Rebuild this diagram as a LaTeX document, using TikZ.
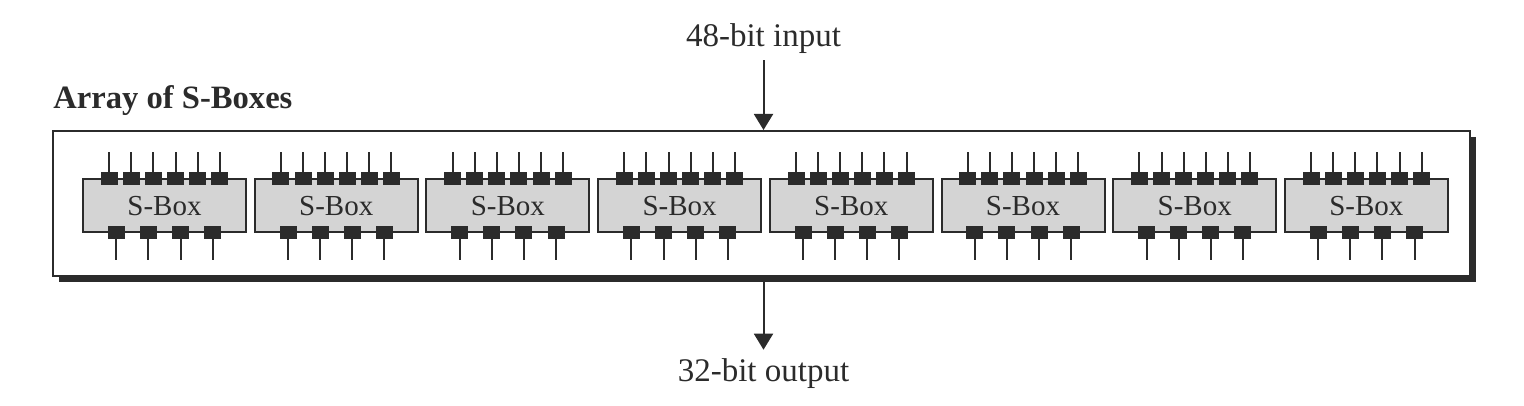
\documentclass[tikz,border=0pt]{standalone}
\usepackage{fontspec}
\setmainfont{Liberation Serif}
\usetikzlibrary{arrows.meta}
\definecolor{dk}{HTML}{2B2B2B}
\definecolor{lg}{HTML}{D4D4D4}
\begin{document}
\begin{tikzpicture}[x=0.5pt,y=-0.5pt,
 sbox/.style={draw=dk, line width=1pt, fill=lg, minimum width=81.5pt, minimum height=26.75pt, inner sep=0pt, font=\fontsize{14.5}{16}\selectfont, text=dk},
 pin/.style={fill=dk, minimum width=8.5pt, minimum height=6.5pt, inner sep=0pt},
 wire/.style={draw=dk, line width=1pt},
 lbl/.style={font=\fontsize{16.5}{19}\selectfont, text=dk, anchor=base, inner sep=0pt},
 ttl/.style={font=\fontsize{16.3}{19}\selectfont\bfseries, text=dk, anchor=base west, inner sep=0pt},
 arr/.style={draw=dk, line width=1pt, -{Triangle[length=8pt,width=9.5pt]}}]
\useasboundingbox (0,0) rectangle (1524,406);
\node[fill=dk, minimum width=708.5pt, minimum height=72.5pt, inner sep=0pt] (shadow) at (767.5,209.5) {};
\node[draw=dk, line width=1pt, fill=white, minimum width=708.5pt, minimum height=72.5pt, inner sep=0pt] (array) at (761.5,203.5) {};
\node[ttl] (title) at (53,108.3) {Array of S-Boxes};
\node[lbl] (in) at (763.5,46.7) {48-bit input};
\node[lbl] (out) at (763.5,381) {32-bit output};
\draw[arr, shorten <=3pt] (in.south) -- (in.south |- array.north);
\draw[arr, shorten >=4pt] (out.north |- shadow.south) -- (out.north);
\foreach \i in {1,...,8}{
  \pgfmathsetmacro{\cx}{164.5+171.7*(\i-1)}
  \node[sbox] (sb\i) at (\cx,205.75) {S-Box};
  \foreach \k in {0,...,5}{
    \pgfmathsetmacro{\px}{\cx+(\k-2.5)*22.1}
    \node[pin] (t\i-\k) at (\px,179) {};
    \coordinate (te\i-\k) at (\px,152.5);
    \draw[wire] (te\i-\k) -- (t\i-\k.north);
  }
  \foreach \k in {0,...,3}{
    \pgfmathsetmacro{\px}{\cx+(\k-1.5)*32.1}
    \node[pin] (b\i-\k) at (\px,232.5) {};
    \coordinate (be\i-\k) at (\px,260);
    \draw[wire] (b\i-\k.south) -- (be\i-\k);
  }
}
\end{tikzpicture}
\end{document}
